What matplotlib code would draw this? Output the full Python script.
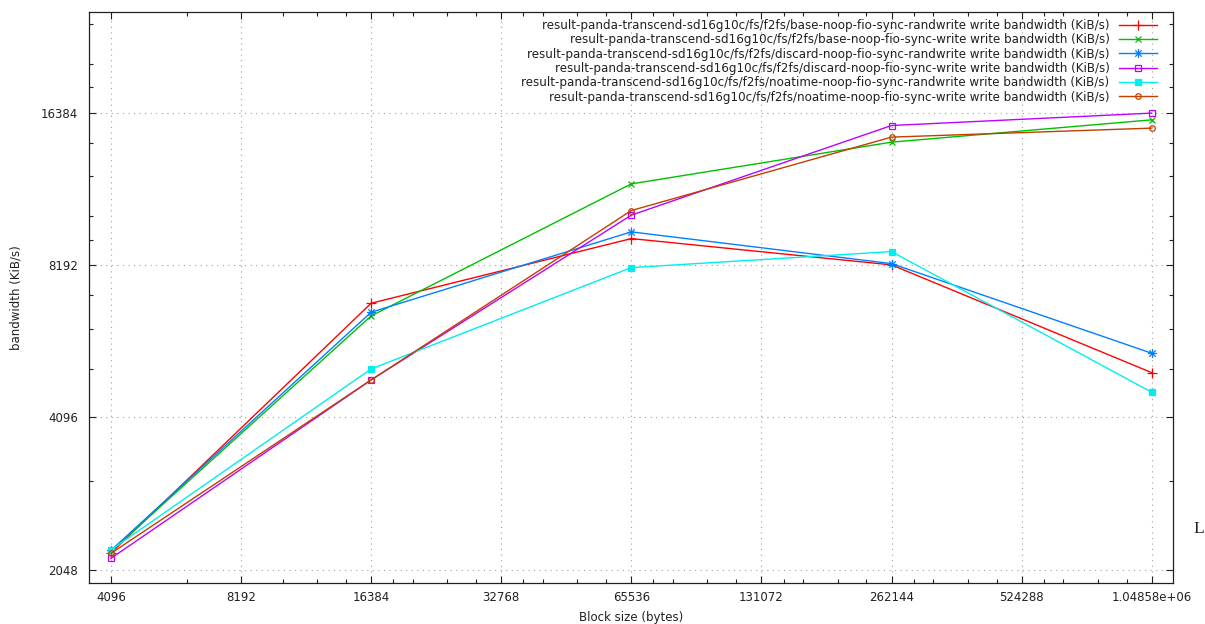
import matplotlib
matplotlib.use("Agg")
import matplotlib.pyplot as plt
from matplotlib.path import Path
from matplotlib.markers import MarkerStyle
from matplotlib.ticker import FixedLocator, FixedFormatter, NullFormatter

# ---------------- data ----------------
block_sizes = [4096, 16384, 65536, 262144, 1048576]

base_randwrite = [2208, 6894, 9257, 8211, 5024]
base_write = [2225, 6507, 11879, 14367, 15905]
discard_randwrite = [2235, 6617, 9544, 8259, 5489]
discard_write = [2155, 4860, 10300, 15499, 16400]
noatime_randwrite = [2239, 5110, 8110, 8724, 4595]
noatime_write = [2205, 4860, 10519, 14700, 15315]

series_labels = [
    "result-panda-transcend-sd16g10c/fs/f2fs/base-noop-fio-sync-randwrite write bandwidth (KiB/s)",
    "result-panda-transcend-sd16g10c/fs/f2fs/base-noop-fio-sync-write write bandwidth (KiB/s)",
    "result-panda-transcend-sd16g10c/fs/f2fs/discard-noop-fio-sync-randwrite write bandwidth (KiB/s)",
    "result-panda-transcend-sd16g10c/fs/f2fs/discard-noop-fio-sync-write write bandwidth (KiB/s)",
    "result-panda-transcend-sd16g10c/fs/f2fs/noatime-noop-fio-sync-randwrite write bandwidth (KiB/s)",
    "result-panda-transcend-sd16g10c/fs/f2fs/noatime-noop-fio-sync-write write bandwidth (KiB/s)",
]

x_ticks = [4096, 8192, 16384, 32768, 65536, 131072, 262144, 524288, 1048576]
x_ticklabels = ["4096", "8192", "16384", "32768", "65536", "131072", "262144",
                "524288", "1.04858e+06"]
y_ticks = [2048, 4096, 8192, 16384]
y_ticklabels = ["2048", "4096", "8192", "16384"]

x_minor = [6144, 10240, 12288, 14336,
           18432, 20480, 24576, 28672,
           36864, 40960, 49152, 57344,
           73728, 81920, 98304, 114688,
           147456, 163840, 196608, 229376,
           294912, 327680, 393216, 458752,
           589824, 655360, 786432, 917504]
y_minor = [3072, 5120, 6144, 7168, 9216, 10240, 12288, 14336,
           18432, 20480, 24576]

x_label = "Block size (bytes)"
y_label = "bandwidth (KiB/s)"

# ---------------- style ----------------
colors = ["#ff0000", "#00c000", "#0080ff", "#c000ff", "#00eeee", "#c04000"]

ast_path = Path(
    [(-1, 0), (1, 0), (0, -1), (0, 1),
     (-0.72, -0.72), (0.72, 0.72), (-0.72, 0.72), (0.72, -0.72)],
    [Path.MOVETO, Path.LINETO] * 4,
)
markers = ["+", "x", MarkerStyle(ast_path), "s", "s", "o"]
msizes = [6.5, 5, 6.5, 5, 5, 4]
mfaces = ["none", "none", "none", "none", colors[4], "none"]

FS = 8.5
LEG_FS = 8.6

fig = plt.figure(figsize=(12.05, 6.24), dpi=100)
ax = fig.add_axes([89.3 / 1205, (624 - 582.9) / 624, 1084 / 1205, 570.7 / 624])

all_series = [base_randwrite, base_write, discard_randwrite, discard_write,
              noatime_randwrite, noatime_write]
for vals, lab, c, m, ms, mf in zip(all_series, series_labels, colors, markers,
                                   msizes, mfaces):
    ax.plot(block_sizes, vals, color=c, lw=1.0, marker=m, markersize=ms,
            markerfacecolor=mf, markeredgecolor=c, markeredgewidth=0.9,
            label=lab)

ax.set_xscale("log", base=2)
ax.set_yscale("log", base=2)
ax.set_xlim(3650, 1176500)
ax.set_ylim(1927, 25977)

ax.xaxis.set_major_locator(FixedLocator(x_ticks))
ax.xaxis.set_major_formatter(FixedFormatter(x_ticklabels))
ax.xaxis.set_minor_locator(FixedLocator(x_minor))
ax.xaxis.set_minor_formatter(NullFormatter())
ax.yaxis.set_major_locator(FixedLocator(y_ticks))
ax.yaxis.set_major_formatter(FixedFormatter(y_ticklabels))
ax.yaxis.set_minor_locator(FixedLocator(y_minor))
ax.yaxis.set_minor_formatter(NullFormatter())

ax.tick_params(which="both", direction="in", top=True, right=True,
               width=0.8, color="#202020", labelsize=FS, labelcolor="#202020")
ax.tick_params(which="major", length=5)
ax.tick_params(which="minor", length=2.6)
ax.tick_params(axis="x", which="major", pad=6)
ax.tick_params(axis="y", which="major", pad=8)

for sp in ax.spines.values():
    sp.set_linewidth(0.9)
    sp.set_color("#202020")

ax.set_axisbelow(True)
ax.grid(True, which="major", color="#a0a0a0", linestyle=(0, (1, 4)),
        linewidth=0.8)

ax.set_xlabel(x_label, fontsize=FS, color="#202020")
ax.set_ylabel(y_label, fontsize=FS, color="#202020")
ax.xaxis.set_label_coords(0.5, -(611 - 582.9) / 570.7)
ax.yaxis.set_label_coords(-(89.3 - 23) / 1084, 0.5)

leg = ax.legend(loc="upper right", bbox_to_anchor=(0.9853, 0.9880),
                frameon=False, fontsize=LEG_FS, markerfirst=False,
                handlelength=3.2, handletextpad=0.8, labelspacing=0.11,
                borderpad=0, borderaxespad=0)
for col in leg._legend_handle_box.get_children():
    col.align = "right"
for t in leg.get_texts():
    t.set_color("#202020")

fig.text(1193 / 1205, 1 - 533 / 624, "L", family="Liberation Serif",
         fontsize=12.5, va="baseline", ha="left", color="#202020")

fig.savefig("out.png", dpi=100)
